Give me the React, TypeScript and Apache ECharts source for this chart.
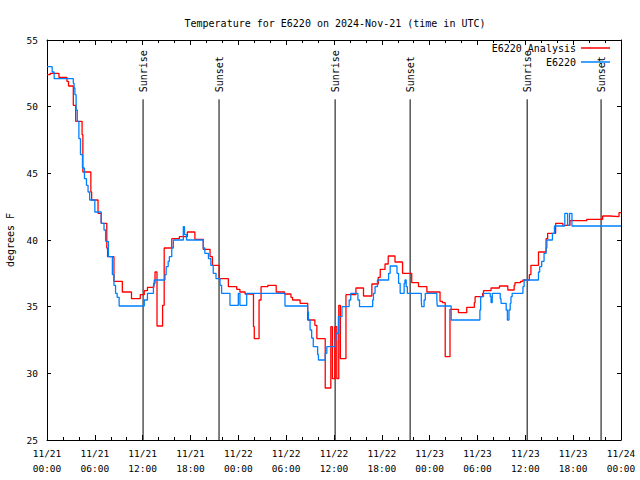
import React, { useEffect, useRef } from "react";
import * as echarts from "echarts";

const titleText = "Temperature for E6220 on 2024-Nov-21 (time in UTC)";
const yAxisName = "degrees F";
const seriesNames = ["E6220 Analysis", "E6220"];
const seriesColors = ["#ff0000", "#0080ff"];

// x in hours since 11/21 00:00 UTC
const xTickLabels = [
  "11/21\n00:00", "11/21\n06:00", "11/21\n12:00", "11/21\n18:00",
  "11/22\n00:00", "11/22\n06:00", "11/22\n12:00", "11/22\n18:00",
  "11/23\n00:00", "11/23\n06:00", "11/23\n12:00", "11/23\n18:00",
  "11/24\n00:00",
];

const sunEventNames = ["Sunrise", "Sunset", "Sunrise", "Sunset", "Sunrise", "Sunset"];
const sunEventHours = [12.05, 21.58, 36.14, 45.55, 60.23, 69.5];

// [hour, degrees F] — start of each step level
const analysisData: [number, number][] = [
  [0, 52.4], [0.4, 52.5], [1.5, 52.2], [2.5, 51.9], [2.7, 51.55], [3.3, 50.1],
  [3.6, 48.9], [4.4, 47.9], [4.5, 45.1], [5.5, 43.6], [5.6, 43.0], [6.4, 42.0],
  [6.8, 41.25], [7.5, 39.4], [7.6, 38.75], [8.4, 36.9], [9.45, 36.1], [10.6, 35.6],
  [11.7, 35.9], [12.2, 36.2], [12.6, 36.45], [13.4, 36.75], [13.55, 37.6], [13.8, 33.55],
  [14.5, 35.1], [14.7, 39.4], [15.65, 40.1], [16.6, 40.25], [17.6, 40.6], [18.55, 40.05],
  [19.6, 39.3], [20.45, 38.75], [20.75, 38.1], [21.6, 37.1], [22.75, 36.5], [23.8, 36.3],
  [24.2, 36.1], [24.85, 35.95], [25.9, 33.5], [26.0, 32.6], [26.6, 35.5], [26.85, 36.5],
  [27.7, 36.6], [28.75, 36.1], [29.8, 35.95], [30.6, 35.7], [30.8, 35.5], [31.75, 35.25],
  [32.7, 34.0], [33.6, 33.6], [33.85, 32.6], [34.9, 28.9], [35.6, 33.5], [35.8, 29.6],
  [36.1, 33.5], [36.35, 29.6], [36.6, 35.1], [36.8, 31.1], [37.5, 35.9], [38.75, 36.4],
  [39.7, 35.8], [40.75, 36.7], [41.55, 37.2], [41.8, 37.8], [42.4, 38.2], [42.8, 38.8],
  [43.65, 38.35], [44.6, 37.5], [45.75, 36.8], [46.6, 36.5], [47.65, 36.1], [49.3, 35.4],
  [49.6, 35.3], [49.95, 31.25], [50.55, 34.8], [51.6, 34.55], [52.65, 34.95], [53.6, 35.3],
  [53.7, 35.75], [54.65, 36.0], [54.75, 36.2], [55.7, 36.4], [56.75, 36.55], [57.8, 36.25],
  [58.6, 36.6], [58.7, 36.8], [59.4, 36.9], [59.7, 37.0], [60.5, 37.4], [60.7, 38.1],
  [61.65, 39.1], [62.6, 40.1], [62.8, 40.5], [63.8, 41.25], [64.7, 41.1], [65.6, 41.45],
  [67.7, 41.55], [69.7, 41.8], [70.6, 41.75], [71.75, 42.05], [72, 42.05],
];

const observedData: [number, number][] = [
  [0, 53.0], [0.65, 52.6], [0.9, 52.1], [3.3, 51.75], [3.4, 51.4], [3.5, 50.9],
  [3.65, 49.75], [3.8, 48.9], [4.0, 47.6], [4.2, 46.4], [4.45, 45.4], [4.7, 44.6],
  [4.95, 44.1], [5.15, 43.6], [5.35, 43.0], [6.0, 42.1], [6.8, 41.25], [7.15, 40.75],
  [7.35, 39.9], [7.7, 38.75], [8.2, 37.4], [8.4, 36.6], [8.6, 36.0], [8.8, 35.7],
  [9.05, 35.05], [12.2, 35.5], [12.6, 36.0], [13.35, 36.6], [13.45, 37.0], [14.8, 37.4],
  [14.95, 38.0], [15.2, 38.4], [15.35, 38.75], [15.65, 39.4], [15.85, 40.0], [17.1, 41.0],
  [17.25, 40.4], [17.5, 40.0], [19.6, 39.4], [19.8, 39.0], [20.25, 38.6], [20.55, 38.1],
  [20.85, 37.5], [21.2, 37.1], [21.7, 36.6], [21.9, 36.0], [22.95, 35.1], [24.0, 36.0],
  [24.2, 35.1], [25.05, 36.0], [29.85, 35.05], [32.7, 34.6], [32.8, 34.0], [33.0, 33.25],
  [33.2, 32.65], [33.4, 32.0], [33.95, 31.4], [34.05, 31.0], [34.9, 31.5], [35.1, 32.0],
  [36.15, 32.5], [36.25, 33.0], [36.55, 34.25], [37.0, 35.0], [37.9, 35.5], [38.1, 36.0],
  [39.0, 35.5], [39.2, 35.0], [40.85, 35.5], [40.95, 36.0], [41.15, 36.5], [41.45, 37.0],
  [42.85, 37.5], [43.05, 38.05], [43.9, 37.5], [44.1, 36.75], [44.3, 36.0], [44.8, 36.75],
  [44.9, 37.0], [45.05, 36.5], [45.2, 36.0], [46.95, 35.5], [47.0, 35.0], [47.3, 35.5],
  [47.45, 36.0], [48.9, 35.5], [48.95, 35.05], [50.7, 34.0], [54.3, 34.75], [54.4, 35.75],
  [54.75, 36.0], [55.6, 35.75], [55.7, 35.3], [55.85, 36.0], [56.85, 35.6], [56.95, 35.25],
  [57.6, 34.75], [57.75, 34.0], [57.95, 34.75], [58.1, 35.25], [58.2, 35.75], [58.35, 36.0],
  [59.7, 36.5], [59.85, 37.0], [61.65, 37.6], [61.8, 38.0], [62.05, 38.4], [62.35, 39.0],
  [62.6, 39.4], [62.7, 40.0], [63.4, 40.5], [63.65, 41.05], [64.95, 42.0], [65.3, 41.1],
  [65.55, 42.0], [65.85, 41.05], [72, 41.05],
];

const X_MIN = 0;
const X_MAX = 72;
const X_INTERVAL = 6;
const Y_MIN = 25;
const Y_MAX = 55;
const Y_INTERVAL = 5;
const SUN_LINE_TOP = 50.55;

const FONT = "DejaVu Sans Mono";

export default function App() {
  const ref = useRef<HTMLDivElement>(null);

  useEffect(() => {
    if (!ref.current) return;
    const chart = echarts.init(ref.current, undefined, { renderer: "svg" });

    const sunSeries = sunEventHours.map((h, i) => ({
      type: "line",
      name: "sun" + i,
      data: [
        [h, Y_MIN],
        {
          value: [h, SUN_LINE_TOP],
          label: {
            show: true,
            formatter: sunEventNames[i],
            position: "top",
            distance: 7,
            rotate: 90,
            align: "left",
            verticalAlign: "middle",
            color: "#000",
            fontFamily: FONT,
            fontSize: 10,
          },
        },
      ],
      symbol: "circle",
      symbolSize: 0,
      showSymbol: true,
      lineStyle: { color: "#000", width: 1 },
      itemStyle: { color: "#000" },
      silent: true,
      z: 1,
    }));

    const tickCommon = {
      inside: true,
      length: 5,
      lineStyle: { color: "#000", width: 1 },
    };

    chart.setOption({
      animation: false,
      backgroundColor: "#fff",
      title: {
        text: titleText,
        left: 330,
        textAlign: "center",
        top: 13,
        textStyle: { fontFamily: FONT, fontSize: 10, fontWeight: "normal", color: "#000" },
      },
      legend: [
        {
          data: [seriesNames[0]],
          right: 30,
          top: 43,
          align: "right",
          padding: 0,
          icon: "rect",
          itemWidth: 29,
          itemHeight: 1.5,
          textStyle: { fontFamily: FONT, fontSize: 10, color: "#000" },
        },
        {
          data: [seriesNames[1]],
          right: 30,
          top: 57,
          align: "right",
          padding: 0,
          icon: "rect",
          itemWidth: 29,
          itemHeight: 1.5,
          textStyle: { fontFamily: FONT, fontSize: 10, color: "#000" },
        },
      ],
      grid: {
        left: 47,
        right: 19,
        top: 40,
        bottom: 40,
        containLabel: false,
        outerBoundsMode: "none",
      },
      xAxis: [
        {
          type: "value",
          min: X_MIN,
          max: X_MAX,
          interval: X_INTERVAL,
          axisLine: { show: true, onZero: false, lineStyle: { color: "#000", width: 1 } },
          axisTick: tickCommon,
          minorTick: { show: true, splitNumber: 3, length: 3, lineStyle: { color: "#000" } },
          splitLine: { show: false },
          axisLabel: {
            margin: 6,
            fontFamily: FONT,
            fontSize: 9.5,
            lineHeight: 15,
            color: "#000",
            formatter: (v: number) => xTickLabels[Math.round((v - X_MIN) / X_INTERVAL)] ?? "",
          },
        },
        {
          type: "value",
          position: "top",
          min: X_MIN,
          max: X_MAX,
          interval: X_INTERVAL,
          axisLine: { show: true, onZero: false, lineStyle: { color: "#000", width: 1 } },
          axisTick: tickCommon,
          minorTick: { show: true, splitNumber: 3, length: 3, lineStyle: { color: "#000" } },
          splitLine: { show: false },
          axisLabel: { show: false },
        },
      ],
      yAxis: [
        {
          type: "value",
          min: Y_MIN,
          max: Y_MAX,
          interval: Y_INTERVAL,
          name: yAxisName,
          nameLocation: "middle",
          nameGap: 31,
          nameRotate: 90,
          nameTextStyle: { fontFamily: FONT, fontSize: 10, color: "#000" },
          axisLine: { show: true, onZero: false, lineStyle: { color: "#000", width: 1 } },
          axisTick: { ...tickCommon, length: 4 },
          splitLine: { show: false },
          axisLabel: { margin: 9, fontFamily: FONT, fontSize: 9.5, color: "#000" },
        },
        {
          type: "value",
          position: "right",
          min: Y_MIN,
          max: Y_MAX,
          interval: Y_INTERVAL,
          axisLine: { show: true, onZero: false, lineStyle: { color: "#000", width: 1 } },
          axisTick: { ...tickCommon, length: 4 },
          splitLine: { show: false },
          axisLabel: { show: false },
        },
      ],
      series: [
        ...sunSeries,
        {
          type: "line",
          name: seriesNames[0],
          data: analysisData,
          step: "end",
          showSymbol: false,
          symbol: "none",
          lineStyle: { color: seriesColors[0], width: 1.3 },
          itemStyle: { color: seriesColors[0] },
          z: 3,
        },
        {
          type: "line",
          name: seriesNames[1],
          data: observedData,
          step: "end",
          showSymbol: false,
          symbol: "none",
          lineStyle: { color: seriesColors[1], width: 1.3 },
          itemStyle: { color: seriesColors[1] },
          z: 4,
        },
      ],
    });

    return () => chart.dispose();
  }, []);

  return (
    <div
      ref={ref}
      style={{ position: "absolute", left: 0, top: 0, width: 640, height: 480 }}
    />
  );
}
